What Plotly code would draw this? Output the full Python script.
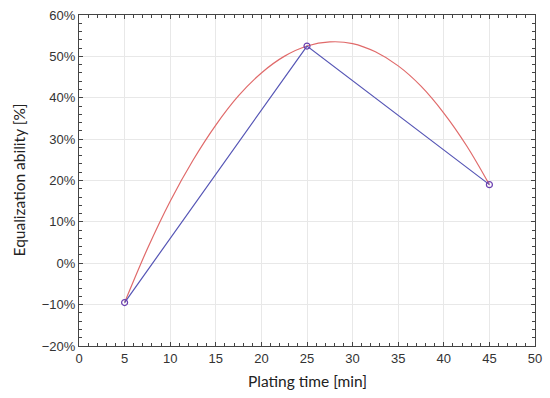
import plotly.graph_objects as go

# Measured points
plating_time = [5, 25, 45]
equalization = [-9.5, 52.5, 19.0]

# Red fitted curve
fit_x = [5, 7.5, 10, 12.5, 15, 17.5, 20, 22.5, 25, 27.5, 30, 32.5, 35, 37.5, 40, 42.5, 45]
fit_y = [-9.5, 3.5, 15.0, 24.9, 33.4, 40.5, 46.0, 50.0, 52.5, 53.5, 53.1, 51.1, 47.7, 42.8, 36.3, 28.4, 19.0]

x_ticks = [0, 5, 10, 15, 20, 25, 30, 35, 40, 45, 50]
y_ticks = [-20, -10, 0, 10, 20, 30, 40, 50, 60]
y_tick_labels = ["\u221220%", "\u221210%", "0%", "10%", "20%", "30%", "40%", "50%", "60%"]

fig = go.Figure()
fig.add_trace(go.Scatter(x=fit_x, y=fit_y, mode="lines", line=dict(color="#e06a6a", width=1.2, shape="spline"),
                         hoverinfo="skip", showlegend=False))
fig.add_trace(go.Scatter(x=plating_time, y=equalization, mode="lines+markers",
                         line=dict(color="#5555b5", width=1.2),
                         marker=dict(symbol="circle-open", size=6, color="#6a3fb0", line=dict(width=1.2)),
                         showlegend=False))

axis_common = dict(showline=True, linecolor="#444", linewidth=1, mirror="ticks",
                   ticks="inside", ticklen=4, tickcolor="#444", automargin=False,
                   showgrid=True, gridcolor="#e8e8e8", gridwidth=1, zeroline=False,
                   tickfont=dict(family="Liberation Sans, Arial", size=13, color="#333"))

fig.update_xaxes(range=[0, 50], tickvals=x_ticks,
                 minor=dict(dtick=1, ticks="inside", ticklen=3, tickcolor="#444", showgrid=False),
                 **axis_common)
fig.update_yaxes(range=[-20, 60], tickvals=y_ticks, ticktext=y_tick_labels,
                 minor=dict(dtick=2, ticks="inside", ticklen=3, tickcolor="#444", showgrid=False),
                 **axis_common)

title_font = dict(family="Lato, Open Sans", size=15.5, color="#222")
fig.add_annotation(text="Plating time [min]", xref="paper", yref="paper", x=0.5, y=0,
                   xanchor="center", yanchor="middle", yshift=-35, showarrow=False, font=title_font)
fig.add_annotation(text="Equalization ability [%]", xref="paper", yref="paper", x=0, y=0.5,
                   xanchor="center", yanchor="middle", xshift=-61, textangle=-90, showarrow=False, font=title_font)

fig.update_layout(width=550, height=398, margin=dict(l=79, r=15, t=15, b=52),
                  plot_bgcolor="white", paper_bgcolor="white")

fig.write_html("out.html", config={"displayModeBar": False})
with open("out.html", "r", encoding="utf-8") as f:
    html = f.read()
html = html.replace("<body>", '<body style="margin:0;padding:0;">', 1)
with open("out.html", "w", encoding="utf-8") as f:
    f.write(html)
